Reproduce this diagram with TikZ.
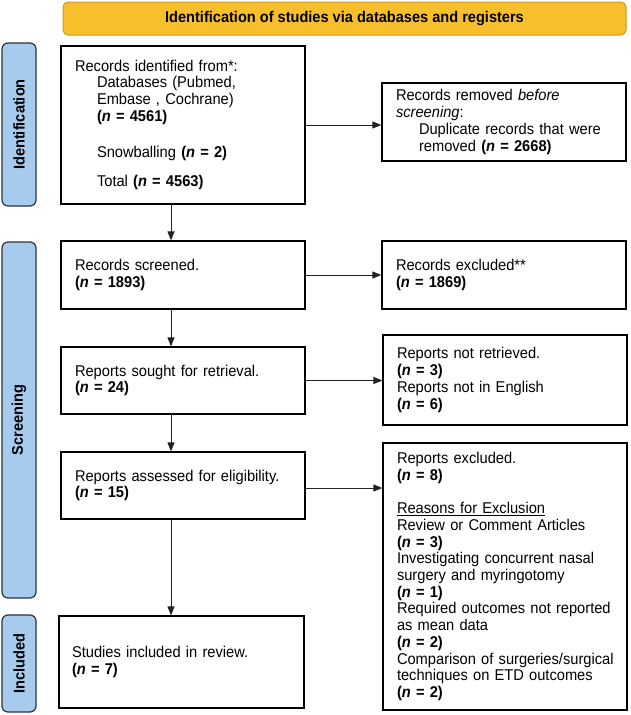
\documentclass[tikz,border=0pt]{standalone}
\usepackage{fontspec}
\setmainfont{Liberation Sans}[FakeStretch=0.94]
\usetikzlibrary{arrows.meta}
\definecolor{bannerfill}{HTML}{F7BF2B}
\definecolor{bannerdraw}{HTML}{D29A1E}
\definecolor{labfill}{HTML}{A7CBEC}
\definecolor{labdraw}{HTML}{2B3440}
\definecolor{arrowcol}{HTML}{222222}
\newcommand{\nn}[1]{\textbf{(\textit{n} = #1)}}
\begin{document}
\begin{tikzpicture}[x=1pt,y=-1pt,
  box/.style={draw=black, line width=1.2pt, fill=white, inner xsep=14pt, inner ysep=0pt,
    align=left, font=\fontsize{15.6}{16.7}\selectfont},
  lab/.style={draw=labdraw, fill=labfill, line width=1.2pt, rounded corners=6pt,
    rotate=90, minimum height=34pt, inner sep=0pt, font=\fontsize{15.5}{16}\selectfont\bfseries},
  banner/.style={draw=bannerdraw, fill=bannerfill, line width=1pt, rounded corners=5pt,
    inner sep=0pt, font=\fontsize{15.5}{16}\selectfont\bfseries},
  arr/.style={draw=arrowcol, line width=0.9pt, -{Triangle[length=9pt,width=7pt]}}]
\useasboundingbox (0,0) rectangle (630,715);

\node[banner, minimum width=563pt, minimum height=33pt] (ban) at (344.5,18.5)
  {Identification of studies via databases and registers};

\node[lab, minimum width=163pt] (lid) at (19,124.5) {Identification};
\node[lab, minimum width=356pt] (lsc) at (19,420) {Screening};
\node[lab, minimum width=97pt] (lin) at (19,663.5) {Included};

\node[box, text width=216pt, minimum height=158pt] (A) at (183,125) {%
Records identified from*:\\
\hspace*{22pt}Databases (Pubmed,\\
\hspace*{22pt}Embase , Cochrane)\\
\hspace*{22pt}\nn{4561}\\[19pt]
\hspace*{22pt}Snowballing \nn{2}\\[13pt]
\hspace*{22pt}Total \nn{4563}};

\node[box, text width=216pt, minimum height=78pt] (B) at (504,122) {%
Records removed \textit{before}\\
\textit{screening}:\\
\hspace*{23pt}\mbox{Duplicate records that were}\\
\hspace*{23pt}removed \nn{2668}};

\node[box, text width=216pt, minimum height=68pt] (C) at (183,275) {%
Records screened.\\
\nn{1893}};

\node[box, text width=216pt, minimum height=68pt] (D) at (504,275) {%
Records excluded**\\
\nn{1869}};

\node[box, text width=216pt, minimum height=67pt] (E) at (183,380.5) {%
Reports sought for retrieval.\\
\nn{24}};

\node[box, text width=216pt, minimum height=90pt] (F) at (505,380) {%
Reports not retrieved.\\
\nn{3}\\
Reports not in English\\
\nn{6}};

\node[box, text width=216pt, minimum height=67pt] (G) at (183,485.5) {%
\mbox{Reports assessed for eligibility.}\\
\nn{15}};

\node[box, text width=216pt, minimum height=267pt] (H) at (505,576.5) {%
Reports excluded.\\
\nn{8}\\[16.7pt]
\underline{Reasons for Exclusion}\\
Review or Comment Articles\\
\nn{3}\\
\mbox{Investigating concurrent nasal}\\
surgery and myringotomy\\
\nn{1}\\
\mbox{Required outcomes not reported}\\
as mean data\\
\nn{2}\\
\mbox{Comparison of surgeries/surgical}\\
\mbox{techniques on ETD outcomes}\\
\nn{2}};

\node[box, inner xsep=13pt, text width=219pt, minimum height=92pt] (I) at (181.5,662) {%
Studies included in review.\\
\nn{7}};

\coordinate (col) at (171,0);
\draw[arr] (A.east) -- (A.east -| B.west);
\draw[arr] (C.east) -- (C.east -| D.west);
\draw[arr] (E.east) -- (E.east -| F.west);
\draw[arr] ([yshift=-2.5pt]G.east) -- ([yshift=-2.5pt]G.east -| H.west);
\draw[arr] (A.south -| col) -- (C.north -| col);
\draw[arr] (C.south -| col) -- (E.north -| col);
\draw[arr] (E.south -| col) -- (G.north -| col);
\draw[arr] (G.south -| col) -- (I.north -| col);
\end{tikzpicture}
\end{document}
